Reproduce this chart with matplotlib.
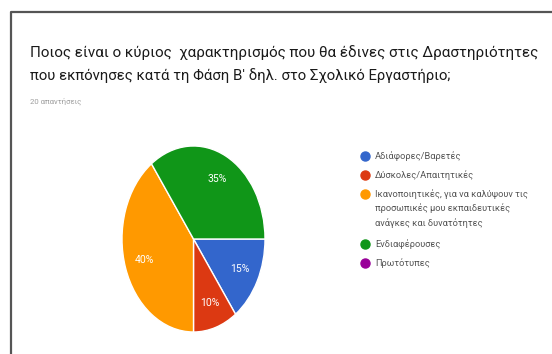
import matplotlib
matplotlib.use("Agg")
import matplotlib.pyplot as plt

plt.rcParams['font.family'] = ['Roboto', 'DejaVu Sans']

title_lines = ["Ποιος είναι ο κύριος  χαρακτηρισμός που θα έδινες στις Δραστηριότητες",
               "που εκπόνησες κατά τη Φάση Β' δηλ. στο Σχολικό Εργαστήριο;"]
subtitle = "20 απαντήσεις"

labels = ["Αδιάφορες/Βαρετές", "Δύσκολες/Απαιτητικές",
          "Ικανοποιητικές, για να καλύψουν τις\nπροσωπικές μου εκπαιδευτικές\nανάγκες και δυνατότητες",
          "Ενδιαφέρουσες", "Πρωτότυπες"]
shares = [15, 10, 40, 35, 0]
colors = ["#3366CC", "#DC3912", "#FF9900", "#109618", "#990099"]

W, H = 552, 354
fig = plt.figure(figsize=(W / 100, H / 100), dpi=100)

def fx(px):
    return px / W

def fy(py):
    return 1 - py / H

# frame around the card
frame = fig.add_axes([0, 0, 1, 1])
frame.set_xlim(0, W)
frame.set_ylim(H, 0)
frame.axis('off')
frame.plot([11, 11, W], [H, 12, 12], color="#555555", lw=1.6)

fig.text(fx(30), fy(57), title_lines[0], fontsize=10.9, color="#1a1a1a", va='baseline')
fig.text(fx(30), fy(80), title_lines[1], fontsize=10.7, color="#1a1a1a", va='baseline')
fig.text(fx(30), fy(104), subtitle, fontsize=5.6, color="#9e9e9e", va='baseline')

# pie, stretched vertically
ax = fig.add_axes([fx(122), fy(332), (265 - 122) / W, (332 - 146) / H])
vals = [v for v in shares if v > 0]
cols = [c for v, c in zip(shares, colors) if v > 0]
wedges, texts, autotexts = ax.pie(vals, colors=cols, startangle=0, counterclock=False,
                                  autopct='%d%%', pctdistance=0.72,
                                  wedgeprops=dict(edgecolor='white', linewidth=1),
                                  textprops=dict(color='white', fontsize=7.5))
ax.set_aspect('auto')
ax.set_xlim(-1, 1)
ax.set_ylim(-1, 1)

# legend
entry_y = [156, 175, 194, 244, 263]
for lab, col, y in zip(labels, colors, entry_y):
    frame.plot(365, y, 'o', color=col, markersize=6.5)
    parts = lab.split("\n")
    for i, p in enumerate(parts):
        frame.text(375, y + i * 14.5, p, fontsize=6.7, color="#555555", va='center')

fig.savefig("out.png", dpi=100)
